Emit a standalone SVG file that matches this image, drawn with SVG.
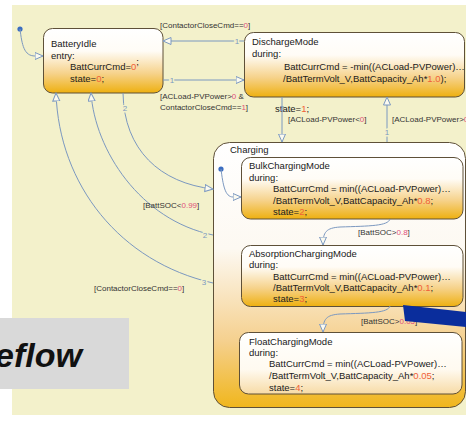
<svg xmlns="http://www.w3.org/2000/svg" width="466" height="425" viewBox="0 0 466 425">
  <defs>
    <linearGradient id="stateFill" x1="0" y1="0" x2="0" y2="1">
      <stop offset="0" stop-color="#ffffff"/>
      <stop offset="0.35" stop-color="#fffcf6"/>
      <stop offset="0.7" stop-color="#f6d28a"/>
      <stop offset="1" stop-color="#eeb010"/>
    </linearGradient>
    <linearGradient id="superFill" x1="0" y1="0" x2="0" y2="1">
      <stop offset="0" stop-color="#ffffff"/>
      <stop offset="0.4" stop-color="#fdf9f2"/>
      <stop offset="0.75" stop-color="#f5d08e"/>
      <stop offset="1" stop-color="#f0b61c"/>
    </linearGradient>
    <linearGradient id="paleFill" x1="0" y1="0" x2="0" y2="1">
      <stop offset="0" stop-color="#ffffff"/>
      <stop offset="0.6" stop-color="#fffaf0"/>
      <stop offset="1" stop-color="#f7dba6"/>
    </linearGradient>
    <marker id="open" markerUnits="userSpaceOnUse" markerWidth="10" markerHeight="9" refX="8.5" refY="4" orient="auto">
      <path d="M0.5,0.5 L8.5,4 L0.5,7.5 Z" fill="#fbfaf0" stroke="#7b98c0" stroke-width="1"/>
    </marker>
    <style>
      .state { stroke: #5e5038; stroke-width: 1; }
      .t { font-family: "Liberation Sans", Arial, sans-serif; font-size: 9.5px; fill: #202020; }
      .k { fill: #f06038; }
      .lbl { font-family: "Liberation Sans", Arial, sans-serif; font-size: 8px; fill: #333333; }
      .lk { fill: #e0507a; }
      .num { font-family: "Liberation Sans", Arial, sans-serif; font-size: 8px; fill: #7b98c0; text-anchor: middle;
             stroke: #f3f1cb; stroke-width: 3; paint-order: stroke; }
      .edge { fill: none; stroke: #7b98c0; stroke-width: 1; marker-end: url(#open); }
      .plain { fill: none; stroke: #7b98c0; stroke-width: 1; }
    </style>
  </defs>

  <!-- canvas -->
  <rect x="0" y="0" width="466" height="425" fill="#ffffff"/>
  <rect x="12" y="5" width="454" height="410" fill="#f3f1cb"/>

  <!-- superstate Charging -->
  <g id="Charging">
    <rect class="state" x="213.5" y="142.5" width="252" height="265" rx="16" fill="url(#superFill)"/>
    <text class="t" x="230" y="153">Charging</text>
  </g>

  <g id="BatteryIdle">
    <rect class="state" x="43.5" y="28.5" width="119.5" height="64.5" rx="9" fill="url(#stateFill)"/>
    <text class="t" x="51" y="47">BatteryIdle</text>
    <text class="t" x="51" y="58.5">entry:</text>
    <text class="t" x="70" y="70">BattCurrCmd=<tspan class="k">0</tspan><tspan dy="-5">;</tspan></text>
    <text class="t" x="70" y="82">state=<tspan class="k">0</tspan>;</text>
  </g>

  <g id="DischargeMode">
    <rect class="state" x="244.5" y="32.5" width="220" height="64.5" rx="9" fill="url(#stateFill)"/>
    <text class="t" x="252" y="45">DischargeMode</text>
    <text class="t" x="252" y="57">during:</text>
    <text class="t" x="284" y="69.5">BattCurrCmd = -min((ACLoad-PVPower)…</text>
    <text class="t" x="283" y="82">/BattTermVolt_V,BattCapacity_Ah*<tspan class="k">1.0</tspan>);</text>
    <text class="t" x="275" y="111.5">state=<tspan class="k">1</tspan>;</text>
  </g>

  <g id="BulkChargingMode">
    <rect class="state" x="241.5" y="157.5" width="221.5" height="61.5" rx="9" fill="url(#stateFill)"/>
    <text class="t" x="249" y="169">BulkChargingMode</text>
    <text class="t" x="249" y="180.5">during:</text>
    <text class="t" x="273" y="192">BattCurrCmd = min((ACLoad-PVPower)…</text>
    <text class="t" x="273" y="204">/BattTermVolt_V,BattCapacity_Ah*<tspan class="k">0.8</tspan>;</text>
    <text class="t" x="273" y="214.5">state=<tspan class="k">2</tspan>;</text>
  </g>

  <g id="AbsorptionChargingMode">
    <rect class="state" x="241.5" y="245.5" width="221.5" height="61" rx="9" fill="url(#stateFill)"/>
    <text class="t" x="249" y="256.5">AbsorptionChargingMode</text>
    <text class="t" x="249" y="268">during:</text>
    <text class="t" x="273" y="279.5">BattCurrCmd = min((ACLoad-PVPower)…</text>
    <text class="t" x="273" y="290.5">/BattTermVolt_V,BattCapacity_Ah*<tspan class="k">0.1</tspan>;</text>
    <text class="t" x="273" y="301.5">state=<tspan class="k">3</tspan>;</text>
  </g>

  <g id="FloatChargingMode">
    <rect class="state" x="239.5" y="332.5" width="222.5" height="61.5" rx="9" fill="url(#paleFill)"/>
    <text class="t" x="249" y="344.5">FloatChargingMode</text>
    <text class="t" x="249" y="356">during:</text>
    <text class="t" x="269" y="367">BattCurrCmd = min((ACLoad-PVPower)…</text>
    <text class="t" x="269" y="378.5">/BattTermVolt_V,BattCapacity_Ah*<tspan class="k">0.05</tspan>;</text>
    <text class="t" x="269" y="390.5">state=<tspan class="k">4</tspan>;</text>
  </g>

  <!-- transitions -->
  <g id="connectors">
    <!-- default entries -->
    <circle cx="20" cy="29" r="2.6" fill="#3a6cc0"/>
    <path class="edge" d="M20,29 C22,45 24,56 35,56 L43,56"/>
    <circle cx="221" cy="169" r="2.6" fill="#3a6cc0"/>
    <path class="edge" d="M221,169 C223,185 225,197 233,197 L241,197"/>

    <!-- Idle <-> Discharge -->
    <path class="edge" d="M244,41 L163,41"/>
    <text class="num" x="237" y="44">1</text>
    <text class="lbl" x="160" y="28">[ContactorCloseCmd==<tspan class="lk">0</tspan>]</text>
    <path class="edge" d="M163,80 L244,80"/>
    <text class="num" x="172" y="83">1</text>
    <text class="lbl" x="160" y="99">[ACLoad-PVPower&gt;<tspan class="lk">0</tspan> &amp;</text>
    <text class="lbl" x="160" y="110">ContactorCloseCmd==<tspan class="lk">1</tspan>]</text>

    <!-- Discharge <-> Charging -->
    <path class="edge" d="M282,97 L282,142"/>
    <text class="num" x="282" y="111" style="stroke:none">2</text>
    <text class="lbl" x="288" y="122">[ACLoad-PVPower&lt;<tspan class="lk">0</tspan>]</text>
    <path class="edge" d="M387,142 L387,97"/>
    <text class="num" x="387" y="135">1</text>
    <text class="lbl" x="392" y="122">[ACLoad-PVPower&gt;<tspan class="lk">0</tspan>]</text>

    <!-- Idle <-> Charging -->
    <path class="edge" d="M123,93 C124,150 160,183 213,189"/>
    <text class="num" x="125" y="111">2</text>
    <path class="edge" d="M213,235 C140,220 95,150 91,93"/>
    <text class="num" x="205" y="238">2</text>
    <text class="lbl" x="143" y="208">[BattSOC&lt;<tspan class="lk">0.99</tspan>]</text>
    <path class="edge" d="M213,283 C120,262 59,185 56,93"/>
    <text class="num" x="204" y="285">3</text>
    <text class="lbl" x="94" y="291">[ContactorCloseCmd==<tspan class="lk">0</tspan>]</text>

    <!-- charging stages -->
    <path class="edge" d="M390,219 C388,226 370,226 340,227 C326,228 323,232 323,245"/>
    <text class="lbl" x="358" y="234.5">[BattSOC&gt;<tspan class="lk">0.8</tspan>]</text>
    <path class="edge" d="M390,306 C388,313 370,313 340,314 C326,315 323,319 323,332"/>
    <text class="lbl" x="361" y="323.5">[BattSOC&gt;<tspan class="lk">0.05</tspan>]</text>
  </g>

  <!-- overlay bar -->
  <polygon points="403,305 466,312 466,327 405,321" fill="#0a2d9c"/>

  <!-- caption strip -->
  <rect x="0" y="318" width="129" height="71" fill="#d9d9d9"/>
  <text x="-5" y="367" font-family="'Liberation Sans', Arial, sans-serif" font-size="34" font-weight="bold" font-style="italic" fill="#111111">eflow</text>
</svg>
